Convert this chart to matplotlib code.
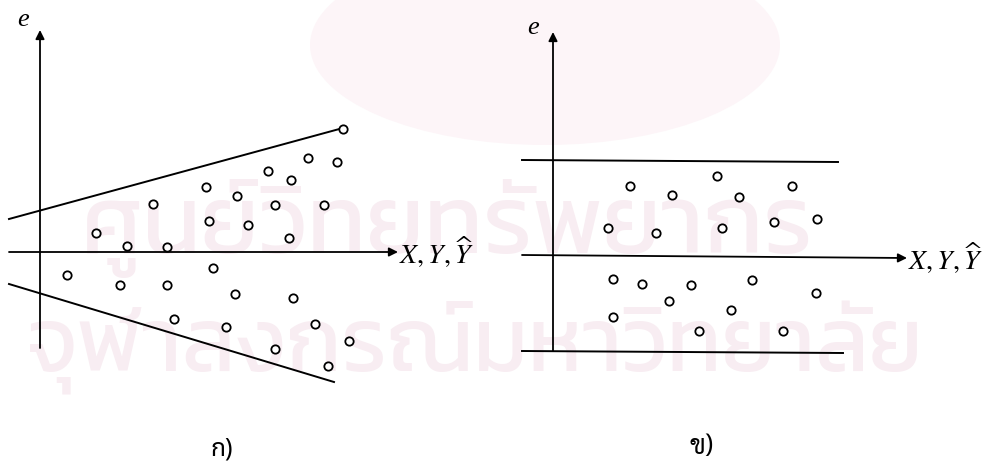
import matplotlib
matplotlib.use("Agg")
import matplotlib.pyplot as plt
from matplotlib.patches import Ellipse

plt.rcParams['mathtext.fontset'] = 'stix'

# residuals that fan out as the fitted value grows
fan_x = [303, 268, 297, 228, 251, 166, 197, 113, 235, 284, 169, 208, 56, 249,
         87, 127, 173, 27, 80, 127, 195, 253, 134, 275, 186, 309, 235, 288]
fan_e = [123, 94, 90, 81, 72, 65, 56, 48, 47, 47, 31, 27, 19, 14,
         6, 5, -16, -23, -33, -33, -42, -46, -67, -72, -75, -89, -97, -114]
fan_upper = ([-31, 303], [33, 124])
fan_lower = ([-31, 294], [-32, -130])

# residuals inside a constant band
band_x = [77, 119, 164, 186, 239, 55, 103, 169, 221, 264,
          60, 89, 138, 199, 263, 116, 178, 60, 146, 230]
band_e = [70, 61, 80, 59, 70, 28, 23, 28, 34, 37,
          -23, -28, -29, -24, -37, -45, -54, -61, -75, -75]
band_upper = ([-31, 285], [96, 94])
band_lower = ([-31, 290], [-95, -97])

fig = plt.figure(figsize=(9.86, 4.62), dpi=100)

# faint library watermark behind the drawings
wm = fig.add_axes([0, 0, 1, 1], zorder=-2)
wm.set_xlim(0, 986)
wm.set_ylim(462, 0)
wm.axis('off')
wm.add_patch(Ellipse((545, 45), 470, 200, color='#fdf5f8', lw=0))
wm.text(447, 228, 'ศูนย์วิทยทรัพยากร', family='Kanit', fontsize=70,
        color='#f8edf2', ha='center', va='center')
wm.text(475, 348, 'จุฬาลงกรณ์มหาวิทยาลัย', family='Kanit', fontsize=65,
        color='#f8edf2', ha='center', va='center')

ax1 = fig.add_axes([0, 0, 0.5, 1])
ax1.set_xlim(-40, 453)
ax1.set_ylim(-210, 252)
ax2 = fig.add_axes([0.5, 0, 0.5, 1])
ax2.set_xlim(-60, 433)
ax2.set_ylim(-206, 256)

arrow = dict(arrowstyle='-|>', color='black', lw=1.3, mutation_scale=13,
             shrinkA=0, shrinkB=0)
label_font = dict(family='Liberation Serif', style='italic', fontsize=19)
dot = dict(ls='none', marker='o', ms=6, mfc='white', mec='black', mew=1.3)

# left panel
ax1.annotate('', xy=(0, 222), xytext=(0, -96), arrowprops=arrow)
ax1.annotate('', xy=(358, 0), xytext=(-31, 0), arrowprops=arrow)
ax1.plot(*fan_upper, color='black', lw=1.4)
ax1.plot(*fan_lower, color='black', lw=1.4)
ax1.plot(fan_x, fan_e, **dot)
ax1.text(-17, 232, 'e', ha='center', va='center', **label_font)
ax1.text(359, 0, r'$X,Y,\widehat{Y}$', fontsize=20, ha='left', va='center')
ax1.text(182, -197, 'ก)', family='Noto Sans Thai', fontsize=18,
         ha='center', va='center')

# right panel
ax2.annotate('', xy=(0, 224), xytext=(0, -95), arrowprops=arrow)
ax2.annotate('', xy=(354, -2), xytext=(-31, 1), arrowprops=arrow)
ax2.plot(*band_upper, color='black', lw=1.4)
ax2.plot(*band_lower, color='black', lw=1.4)
ax2.plot(band_x, band_e, **dot)
ax2.text(-20, 228, 'e', ha='center', va='center', **label_font)
ax2.text(355, -2, r'$X,Y,\widehat{Y}$', fontsize=20, ha='left', va='center')
ax2.text(149, -191, 'ข)', family='Sarabun', fontsize=19,
         ha='center', va='center')

for ax in (ax1, ax2):
    ax.axis('off')

fig.savefig('out.png', dpi=100)
